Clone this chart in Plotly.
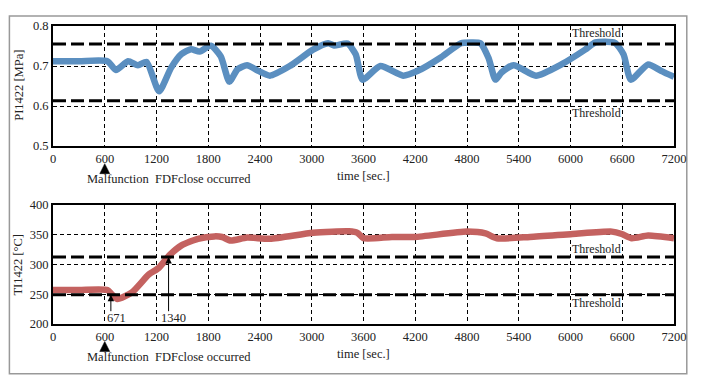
import plotly.graph_objects as go

# ---- data ----
p_time = [0, 300, 630, 730, 870, 985, 1085, 1230, 1370, 1490, 1600, 1700, 1830, 1945, 2045, 2140,
          2250, 2380, 2515, 2745, 3015, 3190, 3260, 3415, 3510, 3590, 3795, 4060, 4230, 4500, 4730,
          4855, 4955, 5050, 5130, 5200, 5340, 5600, 5910, 6170, 6290, 6515, 6615, 6700, 6900, 7050, 7200]
p_value = [0.712, 0.712, 0.712, 0.690, 0.712, 0.702, 0.710, 0.637, 0.696, 0.730, 0.742, 0.736, 0.751,
           0.724, 0.661, 0.692, 0.702, 0.688, 0.676, 0.700, 0.741, 0.757, 0.751, 0.756, 0.729, 0.666,
           0.700, 0.676, 0.688, 0.722, 0.757, 0.759, 0.757, 0.720, 0.666, 0.684, 0.702, 0.676, 0.706,
           0.741, 0.759, 0.758, 0.729, 0.666, 0.704, 0.688, 0.673]

t_time = [0, 300, 630, 680, 745, 915, 1110, 1225, 1355, 1490, 1680, 1870, 1960, 2060, 2250, 2515,
          3015, 3430, 3530, 3600, 3930, 4195, 4800, 5015, 5145, 5530, 6025, 6480, 6595, 6710, 6900, 7200]
t_value = [257, 257, 257, 250, 242, 253, 283, 294, 316, 332, 343, 347, 346, 340, 345, 343,
           353, 355.5, 353, 344, 346, 346, 355, 352, 344, 346, 351, 355, 351, 344, 348.5, 344]

p_thresholds = [0.755, 0.613]
t_thresholds = [312.5, 249]
x_ticks = [0, 600, 1200, 1800, 2400, 3000, 3600, 4200, 4800, 5400, 6000, 6600, 7200]
event_time = 600
marked_times = [671, 1340]

FONT = "Liberation Serif, Times New Roman, serif"
BLUE = "rgb(91,143,192)"
RED = "rgb(196,98,96)"

fig = go.Figure()
fig.add_trace(go.Scatter(x=p_time, y=p_value, mode="lines",
                         line=dict(color=BLUE, width=6.5, shape="spline", smoothing=0.6),
                         xaxis="x", yaxis="y", showlegend=False))
fig.add_trace(go.Scatter(x=t_time, y=t_value, mode="lines",
                         line=dict(color=RED, width=6.5, shape="spline", smoothing=0.6),
                         xaxis="x2", yaxis="y2", showlegend=False))

shapes = []
for th in p_thresholds:
    shapes.append(dict(type="line", xref="x domain", yref="y", x0=0, x1=1, y0=th, y1=th,
                       line=dict(color="black", width=3, dash="13px,5px")))
for th in t_thresholds:
    shapes.append(dict(type="line", xref="x2 domain", yref="y2", x0=0, x1=1, y0=th, y1=th,
                       line=dict(color="black", width=3, dash="13px,5px")))
# event triangles below each axis
for xr, ya in [("x", 0.5213), ("x2", -0.0754)]:
    shapes.append(dict(type="path", xref=xr, yref="paper", xsizemode="pixel", ysizemode="pixel",
                       xanchor=event_time, yanchor=ya, path="M -5,-5 L 5,-5 L 0,5 Z",
                       fillcolor="black", line=dict(color="black", width=0.5)))
# outer frame
shapes.append(dict(type="rect", xref="paper", yref="paper", x0=-0.0702, x1=1.0206, y0=-0.167, y1=1.0335,
                   line=dict(color="#999999", width=1.5), layer="below"))

axis_common = dict(showline=True, mirror=True, linecolor="black", linewidth=2, ticks="",
                   showgrid=True, gridcolor="black", gridwidth=1, griddash="4px,3px",
                   zeroline=False, tickfont=dict(family=FONT, size=12.5, color="#222"))

ann = []
tf = dict(family=FONT, size=12.5, color="#222")
C = dict(xanchor="center", yanchor="middle", showarrow=False)
# titles
ann.append(dict(text="PI1422 [MPa]", x=-0.056, y=0.80, xref="paper", yref="paper", textangle=-90,
                font=tf, **C))
ann.append(dict(text="TI1422 [°C]", x=-0.056, y=0.20, xref="paper", yref="paper", textangle=-90,
                font=tf, **C))
for yy in [0.498, -0.102]:
    ann.append(dict(text="time [sec.]", x=3600, y=yy, xref="x", yref="paper", font=tf, **C))
for yy in [0.485, -0.112]:
    ann.append(dict(text="Malfunction  FDFclose occurred", x=1343, y=yy, xref="x", yref="paper",
                    font=tf, **C))
# threshold labels
thf = dict(family=FONT, size=12, color="#222")
for yy in [0.783, 0.583]:
    ann.append(dict(text="Threshold", x=6300, y=yy, xref="x", yref="y", font=thf, **C))
for yy in [326, 236]:
    ann.append(dict(text="Threshold", x=6300, y=yy, xref="x2", yref="y2", font=thf, **C))
# arrows
tips = [249, 312.5]
for mt, tip in zip(marked_times, tips):
    ann.append(dict(text="", x=mt, y=tip, ax=mt, ay=219, xref="x2", yref="y2", axref="x2", ayref="y2",
                    showarrow=True, arrowhead=2, arrowsize=1.3, arrowwidth=1, arrowcolor="black"))
    ann.append(dict(text=str(mt), x=mt + 60, y=210, xref="x2", yref="y2", font=tf, **C))

fig.update_layout(
    width=690, height=370,
    margin=dict(l=45, r=15, t=11, b=54),
    paper_bgcolor="white", plot_bgcolor="white",
    xaxis=dict(domain=[0, 1], anchor="y", range=[0, 7200], tickvals=x_ticks, **axis_common),
    yaxis=dict(domain=[0.597, 1.0], anchor="x", range=[0.5, 0.8], tickvals=[0.5, 0.6, 0.7, 0.8],
               ticktext=["0.5", "0.6", "0.7", "0.8"], **axis_common),
    xaxis2=dict(domain=[0, 1], anchor="y2", range=[0, 7200], tickvals=x_ticks, **axis_common),
    yaxis2=dict(domain=[0, 0.4], anchor="x2", range=[200, 400], tickvals=[200, 250, 300, 350, 400],
                **axis_common),
    shapes=shapes, annotations=ann,
)
fig.write_html("out.html")
